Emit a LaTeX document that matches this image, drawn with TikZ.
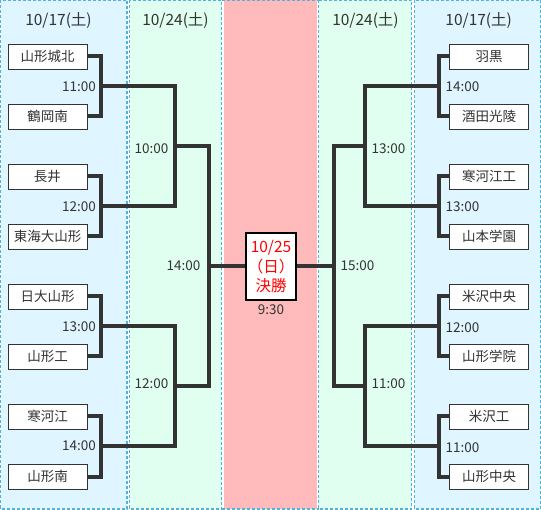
\documentclass[tikz,border=0pt]{standalone}
\usepackage{fontspec}
\setmainfont{Noto Sans CJK JP}
\definecolor{bluebg}{HTML}{DFF5FF}
\definecolor{greenbg}{HTML}{E0FFF0}
\definecolor{pinkbg}{HTML}{FFBBBB}
\definecolor{dashc}{HTML}{4FB3DA}
\definecolor{ink}{HTML}{333333}
\definecolor{finalred}{HTML}{FF0000}
\begin{document}
\begin{tikzpicture}[x=1pt,y=-1pt,
  panel/.style={draw=dashc, line width=1.2pt, dash pattern=on 3pt off 2pt},
  team/.style={draw=ink, line width=0.9pt, fill=white, minimum width=79pt, minimum height=25pt, inner sep=0pt, font=\fontsize{13.5}{16}\selectfont, text=ink},
  br/.style={draw=ink, line width=4pt},
  tm/.style={font=\fontsize{13.5}{16}\selectfont, text=ink, inner sep=0pt},
  hdr/.style={font=\fontsize{15.5}{18}\selectfont, text=ink, inner sep=0pt},
  final/.style={draw=black, line width=2pt, fill=white, minimum width=50pt, minimum height=67pt, inner sep=0pt, align=center, text=finalred, font=\fontsize{15.5}{19.5}\selectfont},
]
\useasboundingbox (0,0) rectangle (541,510);
% panels
\fill[bluebg] (0.5,0.5) rectangle (127,509);
\draw[panel] (0.5,0.5) rectangle (127,509);
\fill[greenbg] (129.5,0.5) rectangle (221.7,509);
\draw[panel] (129.5,0.5) rectangle (221.7,509);
\fill[pinkbg] (223.5,0.5) rectangle (316.5,509);
\draw[panel] (221.7,0.5) -- (318.7,0.5);
\draw[panel] (221.7,509) -- (318.7,509);
\fill[greenbg] (318.7,0.5) rectangle (411.7,509);
\draw[panel] (318.7,0.5) rectangle (411.7,509);
\fill[bluebg] (414.5,0.5) rectangle (540.5,509);
\draw[panel] (414.5,0.5) rectangle (540.5,509);
% headers
\node[hdr] (h1) at (58.5,21) {10/17(土)};
\node[hdr] (h2) at (175.5,21) {10/24(土)};
\node[hdr] (h3) at (365.5,21) {10/24(土)};
\node[hdr] (h4) at (478.7,21) {10/17(土)};
% teams left
\node[team] (L1) at (47.5,56.5) {山形城北};
\node[team] (L2) at (47.5,116.5) {鶴岡南};
\node[team] (L3) at (47.5,176.5) {長井};
\node[team] (L4) at (47.5,236.5) {東海大山形};
\node[team] (L5) at (47.5,296.5) {日大山形};
\node[team] (L6) at (47.5,356.5) {山形工};
\node[team] (L7) at (47.5,416.5) {寒河江};
\node[team] (L8) at (47.5,476.5) {山形南};
% teams right
\node[team] (R1) at (489,56.5) {羽黒};
\node[team] (R2) at (489,116.5) {酒田光陵};
\node[team] (R3) at (489,176.5) {寒河江工};
\node[team] (R4) at (489,236.5) {山本学園};
\node[team] (R5) at (489,296.5) {米沢中央};
\node[team] (R6) at (489,356.5) {山形学院};
\node[team] (R7) at (489,416.5) {米沢工};
\node[team] (R8) at (489,476.5) {山形中央};
% final
\node[final] (F) at (271,266.5) {10/25\\（日）\\決勝};
\node[tm] (t930) at (271,310) {9:30};
% junctions
\coordinate (cL1) at (101,86.5);
\coordinate (cL2) at (101,206.5);
\coordinate (cL3) at (101,326.5);
\coordinate (cL4) at (101,446.5);
\coordinate (dL1) at (175,146.5);
\coordinate (dL2) at (175,386.5);
\coordinate (eL) at (209,266.5);
\coordinate (cR1) at (439,86.5);
\coordinate (cR2) at (439,206.5);
\coordinate (cR3) at (439,326.5);
\coordinate (cR4) at (439,446.5);
\coordinate (dR1) at (364.5,146.5);
\coordinate (dR2) at (364.5,386.5);
\coordinate (eR) at (334,266.5);
% brackets left
\draw[br] (L1.east) -| (cL1) |- (L2.east);
\draw[br] (L3.east) -| (cL2) |- (L4.east);
\draw[br] (L5.east) -| (cL3) |- (L6.east);
\draw[br] (L7.east) -| (cL4) |- (L8.east);
\draw[br] (cL1) -| (dL1) |- (cL2);
\draw[br] (cL3) -| (dL2) |- (cL4);
\draw[br] (dL1) -| (eL) |- (dL2);
\draw[br] (eL) -- (F.west);
% brackets right
\draw[br] (R1.west) -| (cR1) |- (R2.west);
\draw[br] (R3.west) -| (cR2) |- (R4.west);
\draw[br] (R5.west) -| (cR3) |- (R6.west);
\draw[br] (R7.west) -| (cR4) |- (R8.west);
\draw[br] (cR1) -| (dR1) |- (cR2);
\draw[br] (cR3) -| (dR2) |- (cR4);
\draw[br] (dR1) -| (eR) |- (dR2);
\draw[br] (eR) -- (F.east);
% times left
\node[tm, anchor=east] (tL1) at (96,87) {11:00};
\node[tm, anchor=east] (tL2) at (96,206.5) {12:00};
\node[tm, anchor=east] (tL3) at (96,326.5) {13:00};
\node[tm, anchor=east] (tL4) at (96,446) {14:00};
\node[tm, anchor=east] (tL5) at (168.5,148.5) {10:00};
\node[tm, anchor=east] (tL6) at (168.5,384) {12:00};
\node[tm, anchor=east] (tL7) at (200.5,266) {14:00};
% times right
\node[tm, anchor=west] (tR1) at (445.5,87) {14:00};
\node[tm, anchor=west] (tR2) at (445.5,206.5) {13:00};
\node[tm, anchor=west] (tR3) at (445.5,327.5) {12:00};
\node[tm, anchor=west] (tR4) at (445.5,447.5) {11:00};
\node[tm, anchor=west] (tR5) at (371.5,148.5) {13:00};
\node[tm, anchor=west] (tR6) at (371.5,384) {11:00};
\node[tm, anchor=west] (tR7) at (340.5,265.5) {15:00};
\end{tikzpicture}
\end{document}
